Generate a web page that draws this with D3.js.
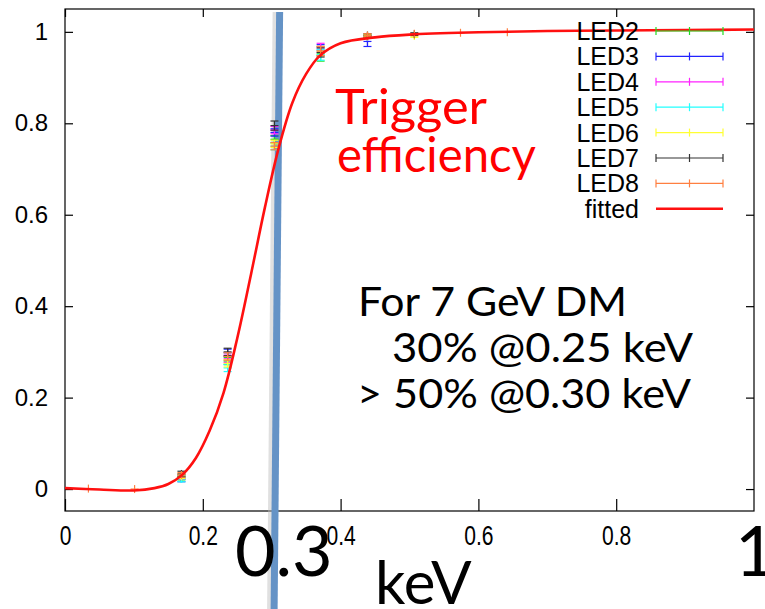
<!DOCTYPE html>
<html>
<head>
<meta charset="utf-8">
<script src="https://cdn.jsdelivr.net/npm/d3@7"></script>
<style>
  body { margin: 0; background: #fff; }
  svg { display: block; }
</style>
</head>
<body>
<script>
// bin centres (keV) shared by all LED series
const xBins = [0.034, 0.101, 0.169, 0.236, 0.304, 0.371, 0.439, 0.507, 0.574, 0.642];

// efficiency per LED (null = no point drawn) and its error
const led2 = [null, null, 0.025, 0.280, 0.765, 0.952, 0.990, null, null, null];
const led2Err = [0, 0, 0.005, 0.008, 0.008, 0.016, 0.004, 0, 0, 0];
const led3 = [null, null, 0.022, 0.298, 0.780, 0.960, 0.979, null, null, null];
const led3Err = [0, 0, 0.006, 0.008, 0.008, 0.012, 0.011, 0, 0, 0];
const led4 = [null, null, 0.027, 0.285, 0.785, 0.965, 0.990, null, null, null];
const led4Err = [0, 0, 0.005, 0.008, 0.008, 0.010, 0.004, 0, 0, 0];
const led5 = [null, null, 0.022, 0.265, 0.750, 0.950, 0.990, null, null, null];
const led5Err = [0, 0, 0.006, 0.008, 0.008, 0.012, 0.004, 0, 0, 0];
const led6 = [null, null, 0.028, 0.275, 0.755, 0.958, 0.990, 0.991, null, null];
const led6Err = [0, 0, 0.005, 0.008, 0.008, 0.010, 0.004, 0.003, 0, 0];
const led7 = [null, null, 0.033, 0.300, 0.795, 0.955, 0.992, 0.995, null, null];
const led7Err = [0, 0, 0.006, 0.008, 0.010, 0.010, 0.004, 0.003, 0, 0];
const led8 = [0.001, 0.000, 0.031, 0.290, 0.750, 0.958, 0.992, 0.996, 0.998, 0.999];
const led8Err = [0, 0, 0.005, 0.008, 0.008, 0.010, 0.004, 0, 0, 0];

// fitted curve
const fitX = [0, 0.05, 0.10, 0.13, 0.15, 0.17, 0.19, 0.21, 0.23, 0.25, 0.27, 0.29, 0.31, 0.33, 0.35, 0.37, 0.40, 0.45, 0.50, 0.60, 0.70, 0.80, 0.90, 1.0];
const fitY = [0.002, -0.001, -0.003, 0.002, 0.011, 0.031, 0.068, 0.128, 0.210, 0.330, 0.470, 0.615, 0.745, 0.845, 0.908, 0.948, 0.975, 0.988, 0.994, 0.999, 1.002, 1.003, 1.004, 1.005];

const xTicks = [0, 0.2, 0.4, 0.6, 0.8];
const yTicks = [0, 0.2, 0.4, 0.6, 0.8, 1];
const seriesNames = ["LED2", "LED3", "LED4", "LED5", "LED6", "LED7", "LED8"];
const seriesColors = ["#22dd22", "#2222ff", "#ff22ff", "#22ffff", "#ffff33", "#333333", "#ff7f40"];
const seriesVals = [led2, led3, led4, led5, led6, led7, led8];
const seriesErrs = [led2Err, led3Err, led4Err, led5Err, led6Err, led7Err, led8Err];

// 0.3 keV marker (hand drawn, slightly tilted)
const markerTop = 0.3115, markerBottom = 0.3035;

const width = 765, height = 609;
const frame = {left: 65, right: 754, top: 9, bottom: 511};

const xScale = d3.scaleLinear().domain([0, 1]).range([frame.left, frame.right]);
const yScale = d3.scaleLinear().domain([-0.048, 1.05]).range([frame.bottom, frame.top]);

const svg = d3.select("body").append("svg")
    .attr("width", width)
    .attr("height", height)
    .style("background", "#fff");

// cornice
svg.append("rect")
    .attr("x", frame.left).attr("y", frame.top)
    .attr("width", frame.right - frame.left).attr("height", frame.bottom - frame.top)
    .attr("fill", "none").attr("stroke", "#000").attr("stroke-width", 1.2);

// axes, ticks pointing inside, mirrored
const tickFont = "'Liberation Sans', Arial, sans-serif";
const axL = svg.append("g").attr("transform", `translate(${frame.left},0)`)
    .call(d3.axisLeft(yScale).tickValues(yTicks).tickSizeInner(-8).tickSizeOuter(0).tickPadding(17).tickFormat(d3.format("~g")));
const axR = svg.append("g").attr("transform", `translate(${frame.right},0)`)
    .call(d3.axisRight(yScale).tickValues(yTicks).tickSizeInner(-8).tickSizeOuter(0).tickFormat(""));
const axB = svg.append("g").attr("transform", `translate(0,${frame.bottom})`)
    .call(d3.axisBottom(xScale).tickValues(xTicks).tickSizeInner(-12).tickSizeOuter(0).tickPadding(15).tickFormat(d3.format("~g")));
const axT = svg.append("g").attr("transform", `translate(0,${frame.top})`)
    .call(d3.axisTop(xScale).tickValues(xTicks).tickSizeInner(-8).tickSizeOuter(0).tickFormat(""));
[axL, axR, axB, axT].forEach(a => {
    a.select(".domain").remove();
    a.selectAll("line").attr("stroke", "#000").attr("stroke-width", 1.2);
    a.selectAll("text").attr("font-family", tickFont).attr("font-size", 24).attr("fill", "#000");
});
// x labels look narrow and tall in the original
axB.selectAll("text").attr("font-size", 27).attr("transform", "scale(0.78,1)");

// blue marker line at 0.3 keV with soft shadow
svg.append("line")
    .attr("x1", xScale(markerTop) - 3).attr("y1", 12)
    .attr("x2", xScale(markerBottom) - 3).attr("y2", height)
    .attr("stroke", "#bbb").attr("stroke-width", 8).attr("opacity", 0.45);
svg.append("line")
    .attr("x1", xScale(markerTop)).attr("y1", 12)
    .attr("x2", xScale(markerBottom)).attr("y2", height)
    .attr("stroke", "#6593c6").attr("stroke-width", 7);

// punti con barre d'errore
const cap = 4;
seriesVals.forEach((vals, s) => {
    const g = svg.append("g").attr("stroke", seriesColors[s]).attr("stroke-width", 1.2);
    vals.forEach((v, i) => {
        if (v === null) return;
        const cx = xScale(xBins[i]), cy = yScale(v);
        const e = seriesErrs[s][i];
        if (e > 0) {
            const y0 = yScale(v - e), y1 = yScale(v + e);
            g.append("line").attr("x1", cx).attr("x2", cx).attr("y1", y0).attr("y2", y1);
            g.append("line").attr("x1", cx - cap).attr("x2", cx + cap).attr("y1", y0).attr("y2", y0);
            g.append("line").attr("x1", cx - cap).attr("x2", cx + cap).attr("y1", y1).attr("y2", y1);
        }
        g.append("line").attr("x1", cx - cap).attr("x2", cx + cap).attr("y1", cy).attr("y2", cy);
        g.append("line").attr("x1", cx).attr("x2", cx).attr("y1", cy - cap).attr("y2", cy + cap);
    });
});

// curva fittata
const fitData = fitX.map((x, i) => [x, fitY[i]]);
svg.append("path")
    .datum(fitData)
    .attr("d", d3.line().x(d => xScale(d[0])).y(d => yScale(d[1])).curve(d3.curveCatmullRom))
    .attr("fill", "none").attr("stroke", "#ff1010").attr("stroke-width", 2.6);

// legenda
const legX = 639, legY0 = 31, legStep = 25.4;
const legNames = seriesNames.concat(["fitted"]);
legNames.forEach((name, i) => {
    const y = legY0 + i * legStep;
    svg.append("text")
        .attr("x", legX).attr("y", y).attr("dy", "0.36em")
        .attr("text-anchor", "end")
        .attr("font-family", tickFont).attr("font-size", 25)
        .text(name);
    if (i < seriesNames.length) {
        const g = svg.append("g").attr("stroke", seriesColors[i]).attr("stroke-width", 1.2);
        g.append("line").attr("x1", 656).attr("x2", 723).attr("y1", y).attr("y2", y);
        [656, 689.5, 723].forEach(tx => g.append("line").attr("x1", tx).attr("x2", tx).attr("y1", y - cap).attr("y2", y + cap));
    } else {
        svg.append("line").attr("x1", 656).attr("x2", 723).attr("y1", y).attr("y2", y)
            .attr("stroke", "#ff1010").attr("stroke-width", 2.6);
    }
});

// annotazioni (widths matched to the slide text)
const slideFont = "Lato, 'Open Sans', sans-serif";
const red = [["Trigger", 335, 124, 152], ["efficiency", 337, 172, 199]];
red.forEach(n => {
    svg.append("text").attr("x", n[1]).attr("y", n[2]).attr("fill", "#ff0000")
        .attr("font-family", slideFont).attr("font-size", 48)
        .attr("textLength", n[3]).attr("lengthAdjust", "spacingAndGlyphs").text(n[0]);
});

const note = [["For 7 GeV DM", 358, 316, 269], ["30% @0.25 keV", 392, 362, 301], ["> 50% @0.30 keV", 357, 408, 334]];
note.forEach(n => {
    svg.append("text").attr("x", n[1]).attr("y", n[2]).attr("fill", "#000")
        .attr("font-family", slideFont).attr("font-size", 40)
        .attr("textLength", n[3]).attr("lengthAdjust", "spacingAndGlyphs").text(n[0]);
});

svg.append("text").attr("x", 235).attr("y", 576).attr("font-family", slideFont)
    .attr("font-size", 70).text("0.3");
svg.append("text").attr("x", 375).attr("y", 604).attr("font-family", slideFont)
    .attr("font-size", 60).text("keV");
svg.append("text").attr("x", 735).attr("y", 576).attr("font-family", slideFont)
    .attr("font-size", 70).text("1");
</script>
</body>
</html>
